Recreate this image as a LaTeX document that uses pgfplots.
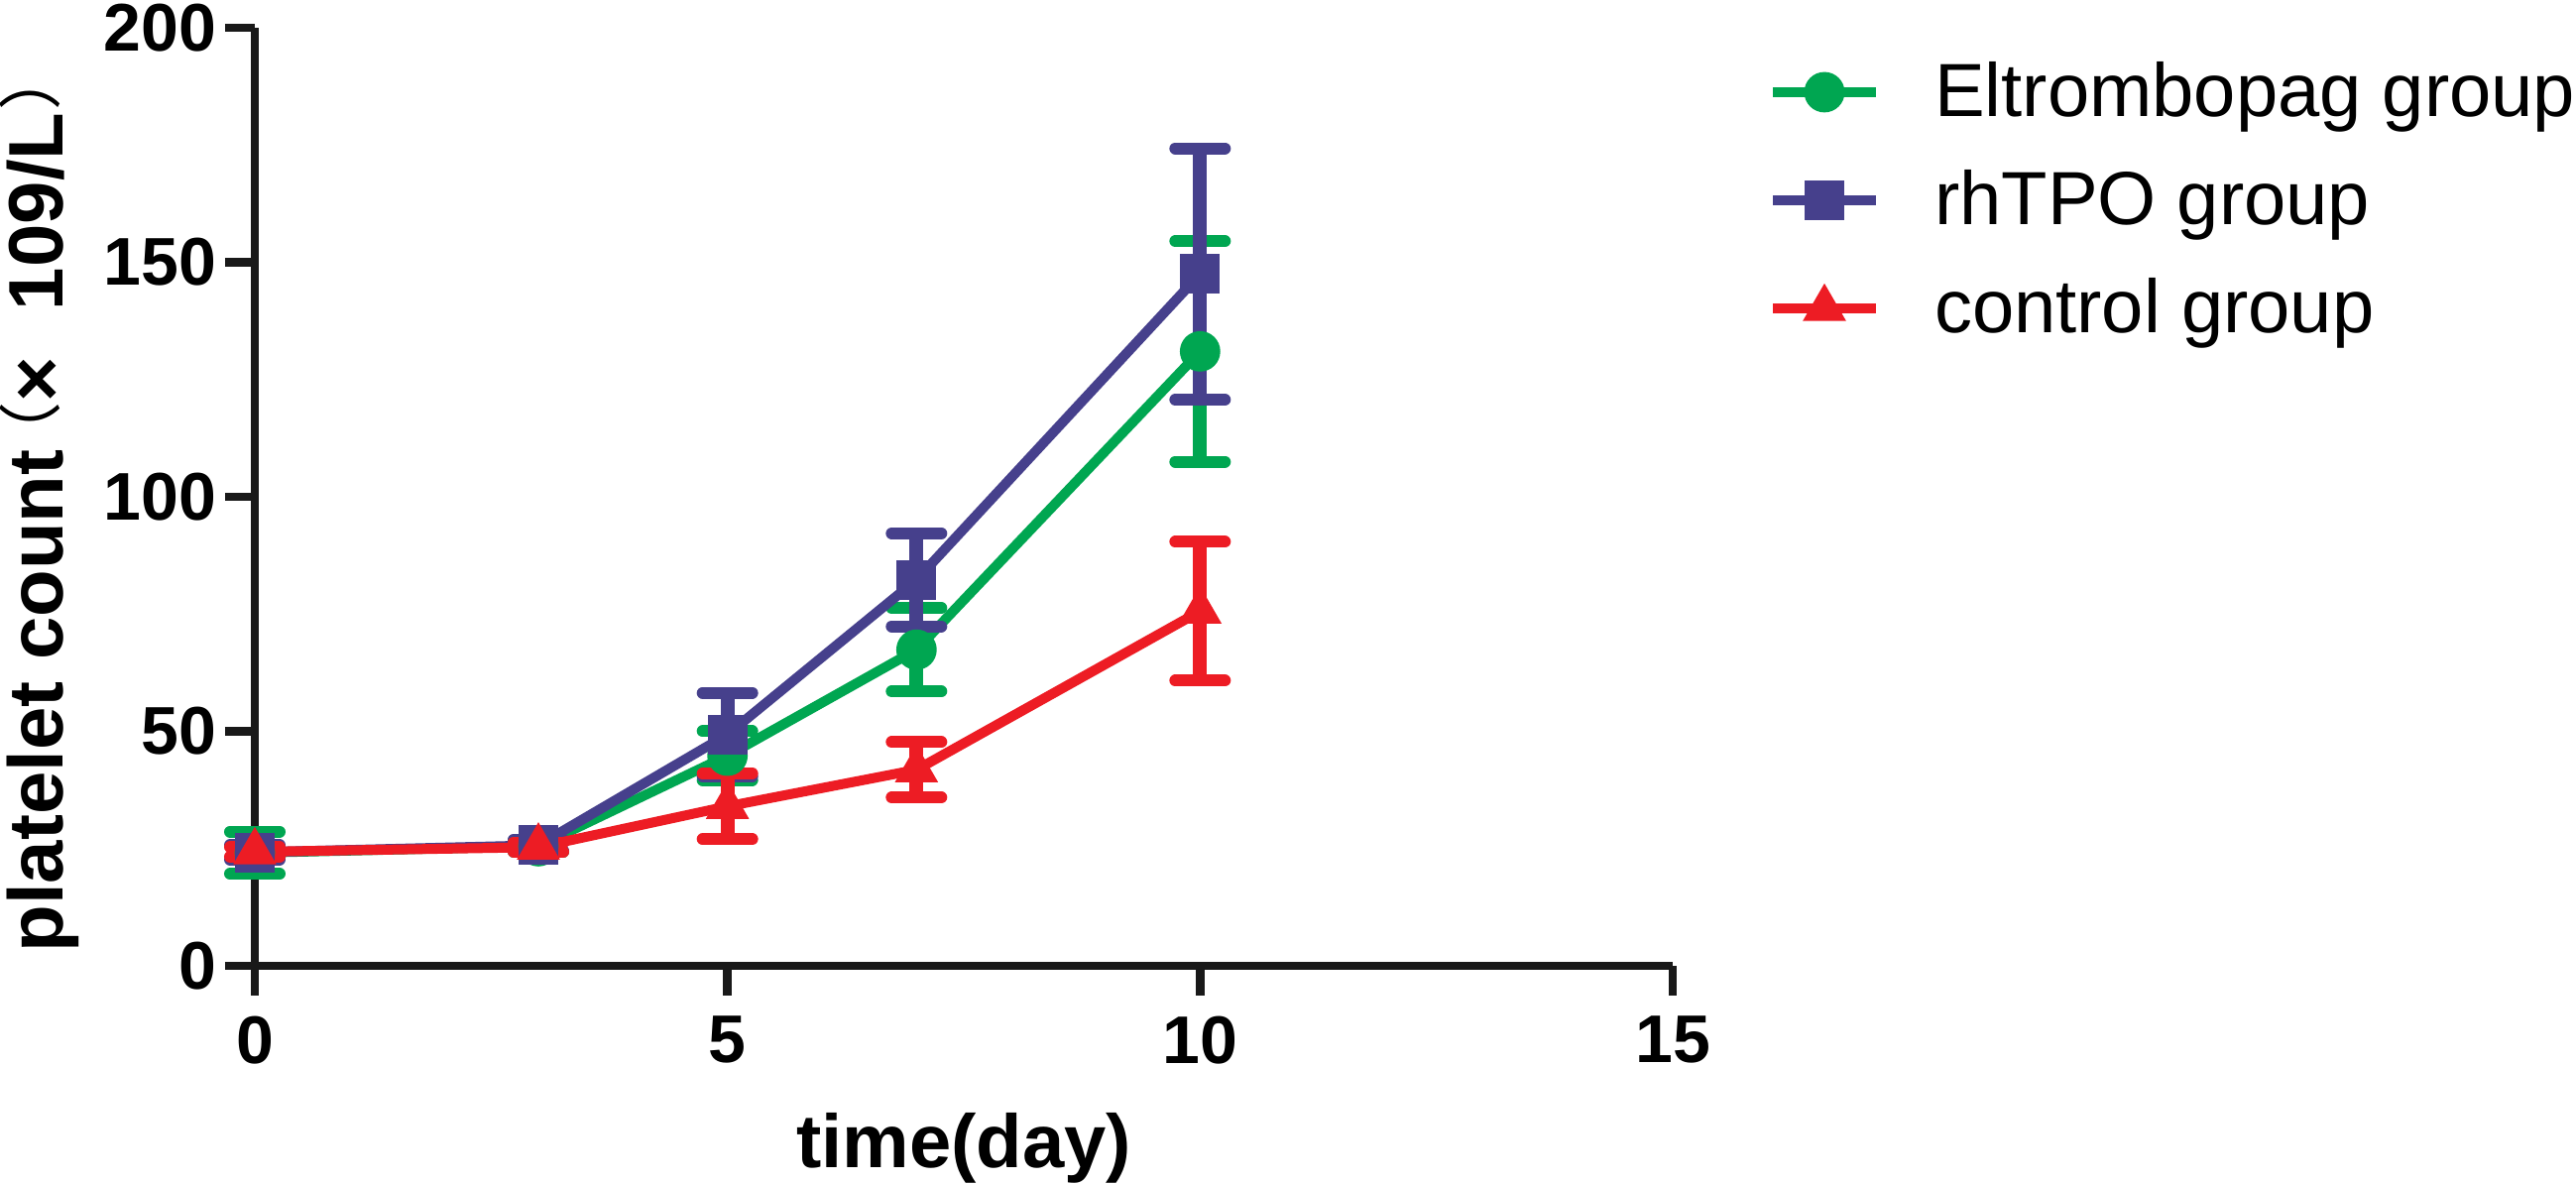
\documentclass[border=0pt]{standalone}
\usepackage{fontspec}
\setmainfont{Liberation Sans}
\newfontfamily\cjk{Noto Sans CJK SC}
\usepackage{pgfplots}
\usepackage{pgfplotstable}
\pgfplotsset{compat=1.18}
\definecolor{cgreen}{RGB}{0,166,81}
\definecolor{cblue}{RGB}{70,64,140}
\definecolor{cred}{RGB}{237,28,36}

\newcommand{\lpar}{\hspace{5.7pt}\makebox[6.3pt][l]{\hspace{-9.6pt}\raisebox{2.3pt}{\fontsize{16}{16}\selectfont\mdseries\cjk （}}}
\newcommand{\rpar}{\hspace{0.5pt}\makebox[6.4pt][l]{\raisebox{2.3pt}{\fontsize{16}{16}\selectfont\mdseries\cjk ）}}}

\pgfplotstableread{
x y e
0 24.1 4.5
3 25.5 1.2
5 44.8 5.2
7 67.4 8.9
10 131.0 23.5
}\eltro
\pgfplotstableread{
x y e
0 24.2 1.5
3 25.7 1.2
5 49.3 8.9
7 82.3 9.9
10 147.5 26.8
}\rhtpo
\pgfplotstableread{
x y e
0 24.3 1.0
3 25.3 1.0
5 34.0 7.0
7 41.8 5.9
10 75.6 14.8
}\ctrl

\begin{document}
\begin{tikzpicture}
\begin{axis}[
  name=ax,
  scale only axis,
  width=357.5pt, height=236.5pt,
  xmin=0, xmax=15, ymin=0, ymax=200,
  axis x line=bottom, axis y line=left,
  axis line style={-, line width=2.2pt, black!90},
  xtick={0,5,10,15}, ytick={0,50,100,150,200},
  tick align=outside,
  major tick length=7.5pt,
  tick style={line width=2.2pt, black!90},
  /pgf/number format/assume math mode=true,
  ticklabel style={font=\fontsize{17}{17}\selectfont\bfseries},
  xticklabel style={inner sep=0pt, anchor=north, yshift=-5pt},
  yticklabel style={inner sep=0pt, anchor=east, xshift=-2pt},
  xlabel={time(day)},
  ylabel={platelet count\lpar×\hspace{11.75pt}109/L\rpar},
  every axis x label/.style={at={(axis description cs:0.5,-0.2156)}, anchor=base, font=\fontsize{19}{19}\selectfont\bfseries},
  every axis y label/.style={at={(axis description cs:-0.135,0.0133)}, rotate=90, anchor=base west, inner sep=0pt, font=\fontsize{19.5}{19.5}\selectfont\bfseries},
  clip=false,
  every axis plot/.append style={line width=2.5pt},
  error bars/error bar style={line width=3.5pt},
  error bars/error mark options={rotate=90, mark size=6.25pt, line width=3pt, line cap=round},
  legend image code/.code={\draw[mark repeat=2,mark phase=2,#1] plot coordinates {(0pt,0pt) (13pt,0pt) (26pt,0pt)};},
  legend style={at={(axis description cs:1,1)}, anchor=north west, xshift=24pt, yshift=-8.5pt,
    draw=none, fill=none, inner sep=0pt, outer sep=0pt, row sep=11.75pt,
    font=\fontsize{19}{19}\selectfont,
    nodes={inner sep=0pt, text height=14pt, text depth=1.5pt},
    /tikz/every odd column/.append style={column sep=13.5pt}},
  legend cell align=left,
]
\addplot[color=cgreen, mark=*, mark size=4.9pt, mark options={solid, line width=0.4pt, fill=cgreen},
  error bars/.cd, y dir=both, y explicit] table[x=x, y=y, y error=e] {\eltro};
\addlegendentry{Eltrombopag group}
\addplot[color=cblue, mark=square*, mark size=4.8pt, mark options={solid, line width=0.4pt, fill=cblue},
  error bars/.cd, y dir=both, y explicit] table[x=x, y=y, y error=e] {\rhtpo};
\addlegendentry{rhTPO group}
\addplot[color=cred, mark=triangle*, mark size=5.9pt, mark options={solid, line width=0.4pt, fill=cred},
  error bars/.cd, y dir=both, y explicit] table[x=x, y=y, y error=e] {\ctrl};
\addlegendentry{control group}
\end{axis}
\pgfresetboundingbox
\path[use as bounding box] ([xshift=-64.25pt,yshift=-55pt]ax.south west) rectangle ([xshift=227.75pt,yshift=7pt]ax.north east);
\end{tikzpicture}
\end{document}
